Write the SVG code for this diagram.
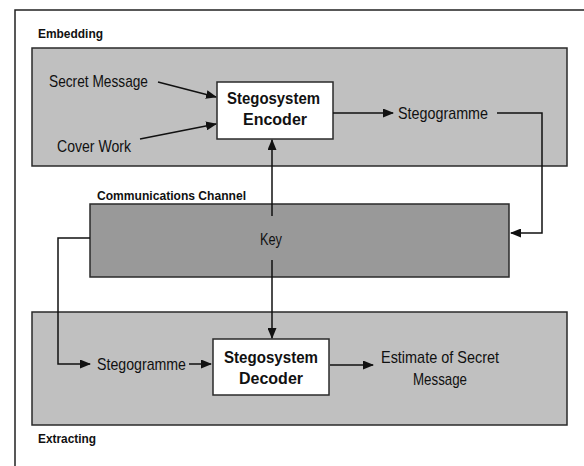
<svg xmlns="http://www.w3.org/2000/svg" width="584" height="466" viewBox="0 0 584 466">
<defs>
<style>
.lbl{font-family:"Liberation Sans",Arial,sans-serif;font-weight:bold;font-size:12px;fill:#111}
.txt{font-family:"Liberation Sans",Arial,sans-serif;font-size:17px;fill:#111}
.btxt{font-family:"Liberation Sans",Arial,sans-serif;font-weight:bold;font-size:16px;fill:#111}
.panel{fill:#c0c0c0;stroke:#2a2a2a;stroke-width:1.5}
.box{fill:#fff;stroke:#2a2a2a;stroke-width:1.5}
.conn{fill:none;stroke:#111;stroke-width:1.5}
</style>
<marker id="ah" markerUnits="userSpaceOnUse" markerWidth="11" markerHeight="9" refX="10" refY="4.5" orient="auto">
<path d="M0,0 L11,4.5 L0,9 z" fill="#111"/>
</marker>
</defs>
<rect width="584" height="466" fill="#fff"/>
<path d="M15,466 V10 H584" fill="none" stroke="#222" stroke-width="1.5"/>

<g id="embedding">
<rect class="panel" x="32" y="48" width="535" height="118"/>
<text class="lbl" x="38" y="38" textLength="65" lengthAdjust="spacingAndGlyphs">Embedding</text>
</g>
<g id="extracting">
<rect class="panel" x="32" y="312" width="535" height="113"/>
<text class="lbl" x="38" y="443" textLength="58" lengthAdjust="spacingAndGlyphs">Extracting</text>
</g>
<g id="channel">
<rect x="90" y="204" width="419" height="73" fill="#999" stroke="#2a2a2a" stroke-width="1.5"/>
<text class="lbl" x="97" y="200" textLength="149" lengthAdjust="spacingAndGlyphs">Communications Channel</text>
</g>
<g id="secret-message"><text class="txt" x="49" y="87" textLength="99" lengthAdjust="spacingAndGlyphs">Secret Message</text></g>
<g id="cover-work"><text class="txt" x="57" y="152" textLength="74" lengthAdjust="spacingAndGlyphs">Cover Work</text></g>
<g id="encoder">
<rect class="box" x="217" y="82" width="116" height="57"/>
<text class="btxt" x="227" y="104" textLength="93" lengthAdjust="spacingAndGlyphs">Stegosystem</text>
<text class="btxt" x="275" y="125" text-anchor="middle">Encoder</text>
</g>
<g id="stegogramme-top"><text class="txt" x="398" y="119" textLength="90" lengthAdjust="spacingAndGlyphs">Stegogramme</text></g>
<g id="key"><text class="txt" x="260" y="245" textLength="22" lengthAdjust="spacingAndGlyphs">Key</text></g>
<g id="stegogramme-bottom"><text class="txt" x="97" y="370" textLength="89" lengthAdjust="spacingAndGlyphs">Stegogramme</text></g>
<g id="decoder">
<rect class="box" x="213" y="339" width="116" height="56"/>
<text class="btxt" x="224" y="363" textLength="94" lengthAdjust="spacingAndGlyphs">Stegosystem</text>
<text class="btxt" x="271" y="384" text-anchor="middle">Decoder</text>
</g>
<g id="estimate">
<text class="txt" x="381" y="363" textLength="118" lengthAdjust="spacingAndGlyphs">Estimate of Secret</text>
<text class="txt" x="413" y="385" textLength="54" lengthAdjust="spacingAndGlyphs">Message</text>
</g>

<g id="connectors">
<path class="conn" d="M158,82 L216,97" marker-end="url(#ah)"/>
<path class="conn" d="M140,139 L216,124" marker-end="url(#ah)"/>
<path class="conn" d="M333,113 H393" marker-end="url(#ah)"/>
<path class="conn" d="M497,113 H542 V233 H511" marker-end="url(#ah)"/>
<path class="conn" d="M272,216 V140" marker-end="url(#ah)"/>
<path class="conn" d="M272,260 V338" marker-end="url(#ah)"/>
<path class="conn" d="M90,238 H58 V364 H90" marker-end="url(#ah)"/>
<path class="conn" d="M189,364 H211" marker-end="url(#ah)"/>
<path class="conn" d="M330,365 H373" marker-end="url(#ah)"/>
</g>
</svg>
